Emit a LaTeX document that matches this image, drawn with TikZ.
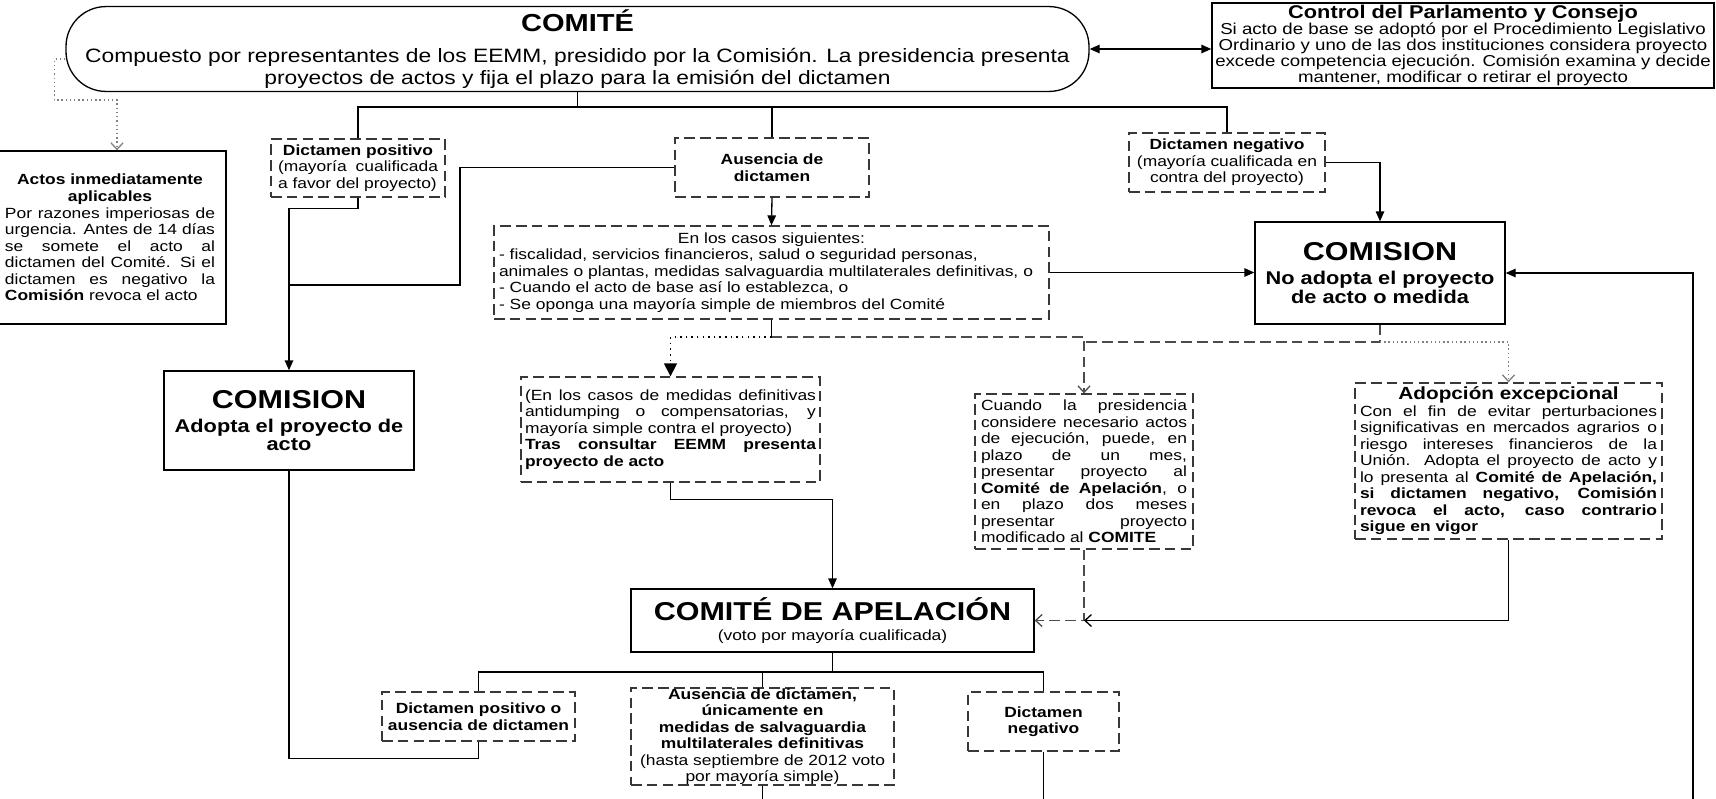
\documentclass[tikz,border=0pt]{standalone}
\usepackage{fontspec}
\setmainfont{Liberation Sans}[FakeStretch=1.18]
\usepackage{tikz}
\usetikzlibrary{arrows.meta,positioning,calc}

\newcommand{\bigttl}{\fontsize{14.7}{17}\selectfont\bfseries}
\newcommand{\midttl}{\fontsize{10.5}{11.6}\selectfont\bfseries}
\newcommand{\ctrpar}[1]{{\centering #1\par}}

\begin{document}
\begin{tikzpicture}[>={Triangle[length=0.2cm,width=0.17cm]}, line width=0.75pt,
  every node/.style={font=\fontsize{8.4}{9.4}\selectfont},
  block/.style={rectangle, draw, line width=0.75pt, inner sep=0.06cm, align=center, fill=white},
  solidbox/.style={block},
  dashbox/.style={block, draw=black!78, dash pattern=on 6pt off 3pt},
  dashline/.style={draw=black!70, dash pattern=on 6pt off 3pt},
  dotline/.style={draw=black!50, dash pattern=on 0.8pt off 1.6pt},
  opentip/.style={-{Straight Barb[length=0.13cm,width=0.24cm]}}
]

\useasboundingbox (0,0) rectangle (34.32,-15.96);

% Top row - Comite and control
\node[solidbox, rounded corners=0.8cm, minimum width=20.46cm, minimum height=1.64cm,
  font=\fontsize{11}{12.6}\selectfont] (comite) at (11.55,-0.98)
  {{\fontsize{14}{16}\selectfont\bfseries COMITÉ}\\[5pt]
   Compuesto por representantes de los EEMM, presidido por la Comisión. La presidencia presenta\\
   proyectos de actos y fija el plazo para la emisión del dictamen};
\node[solidbox, minimum width=10.04cm, minimum height=1.70cm, inner sep=0.02cm,
  font=\fontsize{9}{9.2}\selectfont] (ctrl) at (29.26,-0.91)
  {{\midttl Control del Parlamento y Consejo}\\
   Si acto de base se adoptó por el Procedimiento Legislativo\\
   Ordinario y uno de las dos instituciones considera proyecto\\
   excede competencia ejecución. Comisión examina y decide\\
   mantener, modificar o retirar el proyecto};

% Dictamen boxes below the comite
\node[solidbox, text width=4.2cm, inner xsep=0.22cm, minimum height=3.46cm, align=justify] (actos) at (2.2,-4.75)
  {\ctrpar{\bfseries Actos inmediatamente\\ aplicables}\noindent Por razones imperiosas de\linebreak
   urgencia. Antes de 14 días\linebreak se somete el acto al\linebreak dictamen del Comité. Si el\linebreak
   dictamen es negativo la\linebreak \textbf{Comisión} revoca el acto};
\node[dashbox, text width=3.2cm, inner xsep=0.14cm, minimum height=1.16cm, align=justify] (posit) at (7.16,-3.36)
  {\ctrpar{\bfseries Dictamen positivo}\noindent(mayoría cualificada\linebreak a favor del proyecto)};
\node[dashbox, minimum width=3.88cm, minimum height=1.18cm] (ausen) at (15.44,-3.35)
  {\textbf{Ausencia de}\\ \textbf{dictamen}};
\node[dashbox, minimum width=3.92cm, minimum height=1.18cm] (negat) at (24.54,-3.25)
  {\textbf{Dictamen negativo}\\(mayoría cualificada en\\contra del proyecto)};

% Cases and comision (no adopta)
\node[dashbox, text width=10.9cm, inner xsep=0.1cm, minimum height=1.86cm, align=left] (casos) at (15.43,-5.45)
  {\ctrpar{En los casos siguientes:}\noindent - fiscalidad, servicios financieros, salud o seguridad personas,\\
   animales o plantas, medidas salvaguardia multilaterales definitivas, o\\
   - Cuando el acto de base así lo establezca, o\\
   - Se oponga una mayoría simple de miembros del Comité};
\node[solidbox, minimum width=5.0cm, minimum height=2.04cm] (comR) at (27.6,-5.46)
  {{\bigttl COMISION}\\[4pt]{\midttl No adopta el proyecto}\\{\midttl de acto o medida}};

% Middle row
\node[solidbox, minimum width=5.0cm, minimum height=1.98cm] (comL) at (5.78,-8.41)
  {{\bigttl COMISION}\\[4pt]{\midttl Adopta el proyecto de}\\[1pt]{\midttl acto}};
\node[dashbox, text width=5.82cm, inner xsep=0.08cm, minimum height=2.1cm, align=justify] (medidas) at (13.41,-8.59)
  {\noindent(En los casos de medidas definitivas\linebreak antidumping o compensatorias, y\linebreak
   mayoría simple contra el proyecto)\par
   \noindent\textbf{Tras consultar EEMM presenta\linebreak proyecto de acto}};
\node[dashbox, text width=4.12cm, inner xsep=0.12cm, minimum height=3.1cm, align=justify] (cuando) at (21.68,-9.43)
  {\noindent Cuando la presidencia\linebreak considere necesario actos\linebreak de ejecución, puede, en\linebreak
   plazo de un mes,\linebreak presentar proyecto al\linebreak \textbf{Comité de Apelación}, o\linebreak
   en plazo dos meses\linebreak presentar proyecto\linebreak modificado al \textbf{COMITE}};
\node[dashbox, text width=5.94cm, inner xsep=0.1cm, minimum height=3.12cm, align=justify] (adopc) at (30.17,-9.22)
  {\ctrpar{\fontsize{10}{11}\selectfont\bfseries Adopción excepcional}\noindent Con el fin de evitar perturbaciones\linebreak
   significativas en mercados agrarios o\linebreak riesgo intereses financieros de la\linebreak
   Unión. Adopta el proyecto de acto y\linebreak lo presenta al \textbf{Comité de Apelación,}\linebreak
   \textbf{si dictamen negativo, Comisión}\linebreak \textbf{revoca el acto, caso contrario}\linebreak
   \textbf{sigue en vigor}};

% Comite de apelacion and its outcomes
\node[solidbox, minimum width=8.06cm, minimum height=1.26cm] (apel) at (16.65,-12.41)
  {{\bigttl COMITÉ DE APELACIÓN}\\[2pt](voto por mayoría cualificada)};
\node[dashbox, minimum width=3.86cm, minimum height=0.98cm] (posit2) at (9.57,-14.33)
  {\textbf{Dictamen positivo o}\\ \textbf{ausencia de dictamen}};
\node[dashbox, minimum width=5.26cm, minimum height=1.94cm, inner ysep=0pt] (ausen2) at (15.25,-14.73)
  {\textbf{Ausencia de dictamen,}\\ \textbf{únicamente en}\\ \textbf{medidas de salvaguardia}\\
   \textbf{multilaterales definitivas}\\(hasta septiembre de 2012 voto\\por mayoría simple)};
\node[dashbox, minimum width=3.02cm, minimum height=1.18cm] (neg2) at (20.87,-14.43)
  {\textbf{Dictamen}\\ \textbf{negativo}};

% Junction points
\coordinate (topbar) at (11.62,-2.14);
\coordinate (dotknee) at (2.34,-2.0);
\coordinate (ausknee) at (9.2,-5.7);
\coordinate (cj) at (15.43,-6.74);
\coordinate (rj) at (27.6,-6.84);
\coordinate (botbar) at (16.65,-13.44);
\coordinate (rbot) at (33.86,-16.2);

% Arrows - Comite to control
\draw[<->] (comite.east) -- (comite.east -| ctrl.west);

% Arrows - Comite to the three dictamen
\draw (comite.south) -- (comite.south |- topbar);
\draw (posit.north) |- (topbar) -| (negat.north);
\draw (ausen.north) -- (ausen.north |- topbar);
\draw[dotline, opentip] ([yshift=-0.2cm]comite.west) -- ++(-0.22,0) |- (dotknee) -- (dotknee |- actos.north);

% Arrows - Dictamen to comision
\draw[->] (posit.south) -- ++(0,-0.22) -| (comL.north);
\draw (ausen.west) -| (ausknee) -- (ausknee -| comL.north);
\draw[->] (ausen.south) -- (casos.north);
\draw[->] (casos.east) -- (casos.east -| comR.west);
\draw[->] (negat.east) -| (comR.north);
\draw[->] (rbot) |- (comR.east);

% Arrows - Cases and comision to the middle row
\draw (casos.south) -- (cj);
\draw[dash pattern=on 0.8pt off 2.4pt, -{Triangle[length=0.26cm,width=0.26cm]}] (cj) -| (medidas.north);
\draw[dashline, opentip] (cj) -| (cuando.north);
\draw[dashline] (comR.south) -- (rj) -- (rj -| cuando.north);
\draw[dotline, opentip] (rj) -| (adopc.north);

% Arrows - Middle row to comite de apelacion
\draw[->] (medidas.south) -- ++(0,-0.34) -| (apel.north);
\draw[dashline, opentip] (cuando.south) |- (apel.east);
\draw[opentip] (adopc.south) |- (cuando.south |- apel.east);

% Arrows - Comite de apelacion to outcomes
\draw (apel.south) -- (botbar);
\draw (posit2.north) |- (botbar) -| (neg2.north);
\draw (ausen2.north) -- (ausen2.north |- botbar);
\draw (posit2.south) -- ++(0,-0.34) -| (comL.south);
\draw (ausen2.south) -- (ausen2.south |- rbot);
\draw (neg2.south) -- (neg2.south |- rbot);

\end{tikzpicture}
\end{document}
